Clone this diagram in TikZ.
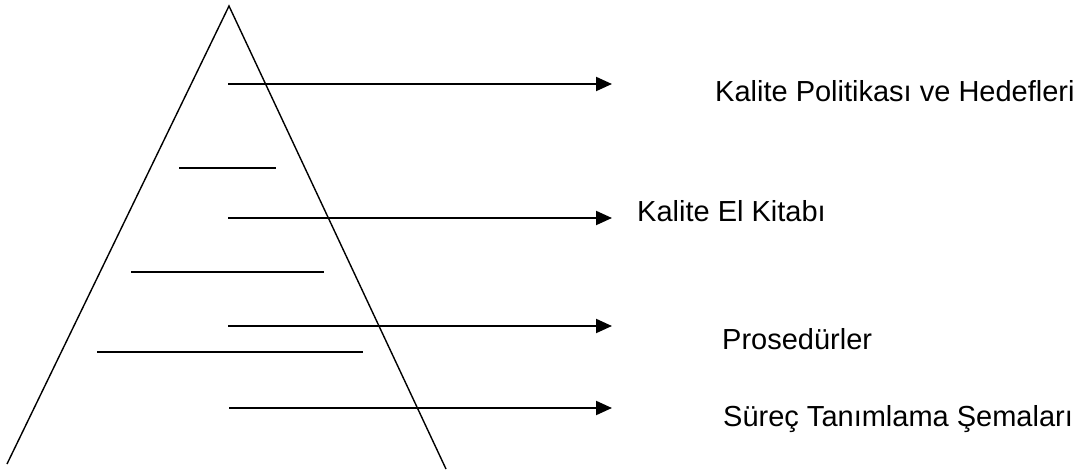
\documentclass[tikz,border=0pt]{standalone}
\usepackage{fontspec}
\setmainfont{Liberation Sans}
\usetikzlibrary{arrows.meta}
\begin{document}
\begin{tikzpicture}[x=1pt,y=-1pt,
  edge/.style={line width=1.4pt},
  level/.style={line width=2pt},
  pointer/.style={line width=2pt,-{Triangle[length=16pt,width=14pt]}},
  caption/.style={anchor=base west,inner sep=0pt,font=\fontsize{29}{34}\selectfont}]
\useasboundingbox (0,0) rectangle (1085,470);
% pyramid outline
\coordinate (apex) at (229,6);
\coordinate (bl) at (7,464);
\coordinate (br) at (446,469);
\draw[edge] (bl) -- (apex) -- (br);
% internal level lines
\coordinate (l1a) at (179,168); \coordinate (l1b) at (276,168);
\coordinate (l2a) at (131,272); \coordinate (l2b) at (324,272);
\coordinate (l3a) at (97,352);  \coordinate (l3b) at (363,352);
\draw[level] (l1a) -- (l1b);
\draw[level] (l2a) -- (l2b);
\draw[level] (l3a) -- (l3b);
% captions
\node[caption] (t1) at (715,102) {Kalite Politikası ve Hedefleri};
\node[caption] (t2) at (637,222) {Kalite El Kitabı};
\node[caption] (t3) at (722,350) {Prosedürler};
\node[caption] (t4) at (723,426) {Süreç Tanımlama Şemaları};
% pointers
\coordinate (s1) at (228,84);  \coordinate (e1) at (612,84);
\coordinate (s2) at (228,218); \coordinate (e2) at (612,218);
\coordinate (s3) at (228,326); \coordinate (e3) at (612,326);
\coordinate (s4) at (229,408); \coordinate (e4) at (612,408);
\draw[pointer] (s1) -- (e1);
\draw[pointer] (s2) -- (e2);
\draw[pointer] (s3) -- (e3);
\draw[pointer] (s4) -- (e4);
\end{tikzpicture}
\end{document}
